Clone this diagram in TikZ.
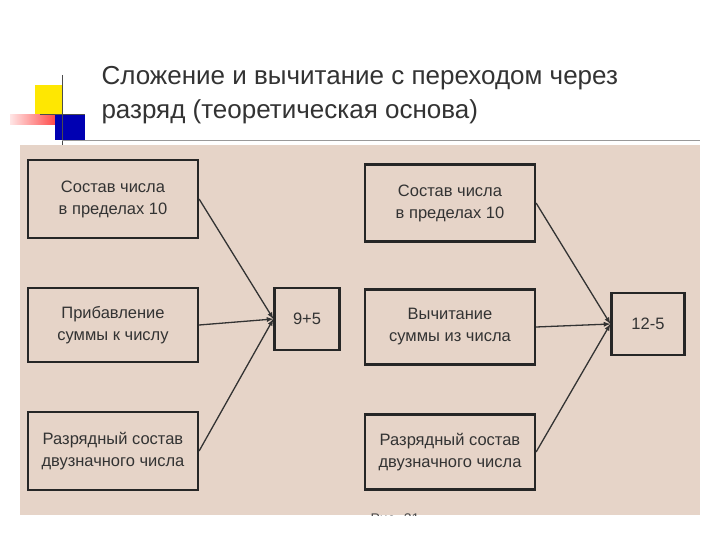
\documentclass[tikz,border=0pt]{standalone}
\usepackage{fontspec}
\setmainfont{Liberation Sans}
\definecolor{scan}{RGB}{230,212,200}
\begin{document}
\begin{tikzpicture}[x=1pt,y=-1pt,
  bx/.style={draw=black!85,line width=2.2pt,fill=none,align=center,font=\fontsize{16.5}{22}\selectfont,text=black!80},
  ar/.style={->,>=latex,line width=1.3pt,black!80}]
\useasboundingbox (0,0) rectangle (720,540);
\fill[white] (0,0) rectangle (720,540);
% logo
\fill[yellow!90!orange] (35,85) rectangle (62,115);
\shade[left color=red!10,right color=red!80] (10,115) rectangle (62,125);
\fill[blue!70!black] (55,115) rectangle (85,140);
\draw[black!70,line width=1pt] (62,75) -- (62,145);
\draw[black!70,line width=1pt] (40,115) -- (85,115);
\draw[black!40] (62,140) -- (700,140);
% title
\node[anchor=west,font=\fontsize{26}{30}\selectfont,text=black!80] (t1) at (98,78) {Сложение и вычитание с переходом через};
\node[anchor=west,font=\fontsize{26}{30}\selectfont,text=black!80] (t2) at (98,112) {разряд (теоретическая основа)};
% scan
\fill[scan] (20,145) rectangle (700,515);
\begin{scope}
\clip (20,145) rectangle (700,515);
\node[font=\fontsize{14}{16}\selectfont,text=black!70] (cap) at (395,519) {Рис. 21};
\end{scope}
\node[bx,minimum width=170,minimum height=78] (a1) at (113,199) {Состав числа\\в пределах 10};
\node[bx,minimum width=170,minimum height=74] (a2) at (113,325) {Прибавление\\суммы к числу};
\node[bx,minimum width=170,minimum height=78] (a3) at (113,451) {Разрядный состав\\двузначного числа};
\node[bx,minimum width=65,minimum height=62] (c1) at (307,319) {9+5};
\node[bx,minimum width=170,minimum height=77] (b1) at (450,203) {Состав числа\\в пределах 10};
\node[bx,minimum width=170,minimum height=75] (b2) at (450,327) {Вычитание\\суммы из числа};
\node[bx,minimum width=73,minimum height=62] (c2) at (648,324) {12-5};
\node[bx,minimum width=170,minimum height=75] (b3) at (450,452) {Разрядный состав\\двузначного числа};
\draw[ar] (a1.east) -- (c1.west);
\draw[ar] (a2.east) -- (c1.west);
\draw[ar] (a3.east) -- (c1.west);
\draw[ar] (b1.east) -- (c2.west);
\draw[ar] (b2.east) -- (c2.west);
\draw[ar] (b3.east) -- (c2.west);
\end{tikzpicture}
\end{document}
